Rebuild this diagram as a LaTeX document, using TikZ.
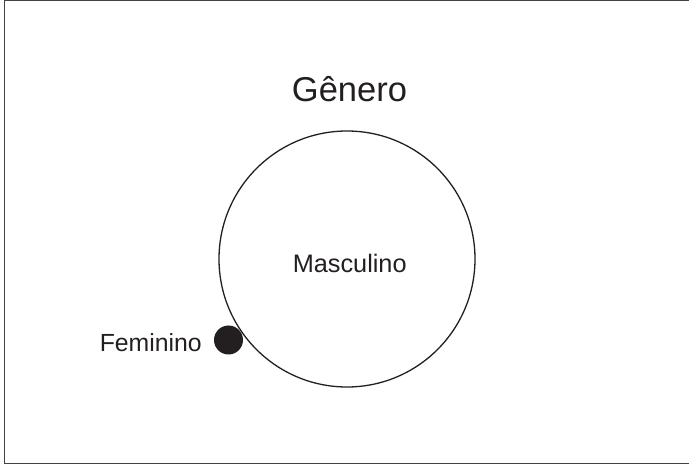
\documentclass[tikz,border=0pt]{standalone}
\usepackage{fontspec}
\setmainfont{Liberation Sans}
\definecolor{ink}{HTML}{231F20}
\begin{document}
\begin{tikzpicture}[x=1pt,y=-1pt,
  lbl/.style={inner sep=0pt,text=ink},
  frame/.style={draw=ink!85,line width=1pt}]
\useasboundingbox (0,0) rectangle (689,465);
\begin{scope}
\clip (0,0) rectangle (689,465);
\draw[frame] (4.5,1) rectangle (700,463.5);
\end{scope}
\node[draw=ink,line width=1.3pt,circle,minimum size=256pt,inner sep=0pt] (masc) at (347,259) {};
\node[circle,fill=ink,minimum size=29pt,inner sep=0pt] (fem) at (228.5,340) {};
\node[lbl,anchor=base,font=\fontsize{34.5}{40}\selectfont] (gen) at (349.5,102) {Gênero};
\node[lbl,anchor=base,font=\fontsize{25.3}{30}\selectfont] (mtext) at (349.7,272.7) {Masculino};
\node[lbl,anchor=base east,font=\fontsize{24.8}{30}\selectfont] (ftext) at (202,352) {Feminino};
\end{tikzpicture}
\end{document}
